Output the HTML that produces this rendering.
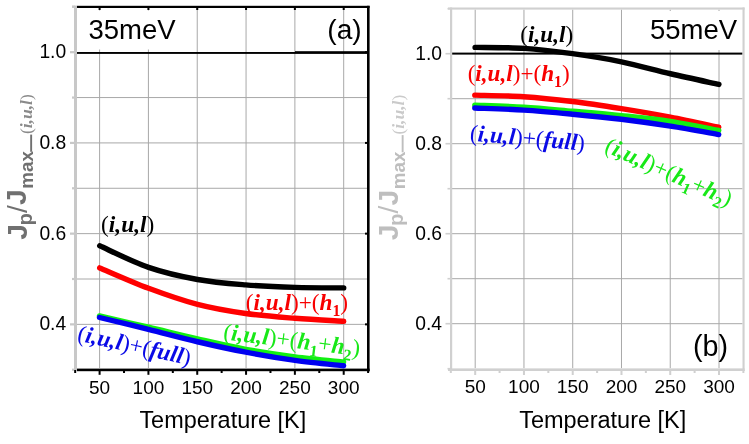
<!DOCTYPE html><html><head><meta charset="utf-8"><style>html,body{margin:0;padding:0;background:#fff;overflow:hidden}svg{display:block;will-change:transform}</style></head><body>
<svg width="749" height="444" viewBox="0 0 749 444">
<rect width="749" height="444" fill="#fff"/>
<line x1="99.60" y1="8" x2="99.60" y2="368" stroke="#a8a8a8" stroke-width="1"/>
<line x1="148.42" y1="8" x2="148.42" y2="368" stroke="#a8a8a8" stroke-width="1"/>
<line x1="197.24" y1="8" x2="197.24" y2="368" stroke="#a8a8a8" stroke-width="1"/>
<line x1="246.06" y1="8" x2="246.06" y2="368" stroke="#a8a8a8" stroke-width="1"/>
<line x1="294.88" y1="8" x2="294.88" y2="368" stroke="#a8a8a8" stroke-width="1"/>
<line x1="343.70" y1="8" x2="343.70" y2="368" stroke="#a8a8a8" stroke-width="1"/>
<line x1="77" y1="324.36" x2="367" y2="324.36" stroke="#a8a8a8" stroke-width="1"/>
<line x1="77" y1="279.00" x2="367" y2="279.00" stroke="#a8a8a8" stroke-width="1"/>
<line x1="77" y1="233.64" x2="367" y2="233.64" stroke="#a8a8a8" stroke-width="1"/>
<line x1="77" y1="188.28" x2="367" y2="188.28" stroke="#a8a8a8" stroke-width="1"/>
<line x1="77" y1="142.92" x2="367" y2="142.92" stroke="#a8a8a8" stroke-width="1"/>
<line x1="77" y1="97.56" x2="367" y2="97.56" stroke="#a8a8a8" stroke-width="1"/>
<rect x="77.5" y="10.5" width="112" height="39" fill="#fff"/>
<rect x="77" y="52" width="218" height="1.9" fill="#000"/>
<rect x="295" y="51.2" width="72" height="2.7" fill="#000"/>
<rect x="74" y="5.6" width="3" height="365" fill="#c8c8c8"/>
<rect x="72" y="5.6" width="3" height="2.3" fill="#c8c8c8"/>
<rect x="77" y="5.8" width="292.6" height="2.2" fill="#000"/>
<rect x="367" y="5.8" width="2.6" height="365.5" fill="#000"/>
<rect x="77" y="368.6" width="292.6" height="2.6" fill="#000"/>
<rect x="72" y="368.62" width="2" height="2.2" fill="#c8c8c8"/>
<rect x="70" y="323.26" width="4" height="2.2" fill="#c8c8c8"/>
<rect x="72" y="277.90" width="2" height="2.2" fill="#c8c8c8"/>
<rect x="70" y="232.54" width="4" height="2.2" fill="#c8c8c8"/>
<rect x="72" y="187.18" width="2" height="2.2" fill="#c8c8c8"/>
<rect x="70" y="141.82" width="4" height="2.2" fill="#c8c8c8"/>
<rect x="72" y="96.46" width="2" height="2.2" fill="#c8c8c8"/>
<rect x="70" y="51.10" width="4" height="2.2" fill="#c8c8c8"/>
<rect x="72" y="5.74" width="2" height="2.2" fill="#c8c8c8"/>
<rect x="98.60" y="7" width="2" height="3" fill="#000"/>
<rect x="147.42" y="7" width="2" height="3" fill="#000"/>
<rect x="196.24" y="7" width="2" height="3" fill="#000"/>
<rect x="245.06" y="7" width="2" height="3" fill="#000"/>
<rect x="293.88" y="7" width="2" height="3" fill="#000"/>
<rect x="342.70" y="7" width="2" height="3" fill="#000"/>
<rect x="365" y="323.36" width="3" height="2" fill="#000"/>
<rect x="365" y="232.64" width="3" height="2" fill="#000"/>
<rect x="365" y="141.92" width="3" height="2" fill="#000"/>
<rect x="365" y="51.20" width="3" height="2" fill="#000"/>
<rect x="74.19" y="370" width="2" height="3" fill="#000"/>
<rect x="98.60" y="370" width="2" height="4.8" fill="#000"/>
<rect x="123.01" y="370" width="2" height="3" fill="#000"/>
<rect x="147.42" y="370" width="2" height="4.8" fill="#000"/>
<rect x="171.83" y="370" width="2" height="3" fill="#000"/>
<rect x="196.24" y="370" width="2" height="4.8" fill="#000"/>
<rect x="220.65" y="370" width="2" height="3" fill="#000"/>
<rect x="245.06" y="370" width="2" height="4.8" fill="#000"/>
<rect x="269.47" y="370" width="2" height="3" fill="#000"/>
<rect x="293.88" y="370" width="2" height="4.8" fill="#000"/>
<rect x="318.29" y="370" width="2" height="3" fill="#000"/>
<rect x="342.70" y="370" width="2" height="4.8" fill="#000"/>
<rect x="367.11" y="370" width="2" height="3" fill="#000"/>
<line x1="475.20" y1="9.6" x2="475.20" y2="368.2" stroke="#a8a8a8" stroke-width="1"/>
<line x1="523.96" y1="9.6" x2="523.96" y2="368.2" stroke="#a8a8a8" stroke-width="1"/>
<line x1="572.72" y1="9.6" x2="572.72" y2="368.2" stroke="#a8a8a8" stroke-width="1"/>
<line x1="621.48" y1="9.6" x2="621.48" y2="368.2" stroke="#a8a8a8" stroke-width="1"/>
<line x1="670.24" y1="9.6" x2="670.24" y2="368.2" stroke="#a8a8a8" stroke-width="1"/>
<line x1="719.00" y1="9.6" x2="719.00" y2="368.2" stroke="#a8a8a8" stroke-width="1"/>
<line x1="452" y1="323.70" x2="742.5" y2="323.70" stroke="#a8a8a8" stroke-width="1"/>
<line x1="452" y1="278.70" x2="742.5" y2="278.70" stroke="#a8a8a8" stroke-width="1"/>
<line x1="452" y1="233.70" x2="742.5" y2="233.70" stroke="#a8a8a8" stroke-width="1"/>
<line x1="452" y1="188.70" x2="742.5" y2="188.70" stroke="#a8a8a8" stroke-width="1"/>
<line x1="452" y1="143.70" x2="742.5" y2="143.70" stroke="#a8a8a8" stroke-width="1"/>
<line x1="452" y1="98.70" x2="742.5" y2="98.70" stroke="#a8a8a8" stroke-width="1"/>
<rect x="640" y="11" width="102" height="39" fill="#fff"/>
<rect x="452" y="52.6" width="290.5" height="2" fill="#000"/>
<rect x="450" y="7.5" width="2.2" height="363.5" fill="#d0d0d0"/>
<rect x="448" y="7.5" width="296.6" height="2.1" fill="#d0d0d0"/>
<rect x="742.5" y="7.5" width="2.1" height="363.5" fill="#d0d0d0"/>
<rect x="448" y="368.4" width="296.6" height="2.6" fill="#d0d0d0"/>
<rect x="447.5" y="367.90" width="2.5" height="1.6" fill="#d0d0d0"/>
<rect x="445.5" y="322.90" width="4.5" height="1.6" fill="#d0d0d0"/>
<rect x="447.5" y="277.90" width="2.5" height="1.6" fill="#d0d0d0"/>
<rect x="445.5" y="232.90" width="4.5" height="1.6" fill="#d0d0d0"/>
<rect x="447.5" y="187.90" width="2.5" height="1.6" fill="#d0d0d0"/>
<rect x="445.5" y="142.90" width="4.5" height="1.6" fill="#d0d0d0"/>
<rect x="447.5" y="97.90" width="2.5" height="1.6" fill="#d0d0d0"/>
<rect x="445.5" y="52.90" width="4.5" height="1.6" fill="#d0d0d0"/>
<rect x="447.5" y="7.90" width="2.5" height="1.6" fill="#d0d0d0"/>
<rect x="449.82" y="370" width="2" height="3" fill="#d0d0d0"/>
<rect x="474.20" y="370" width="2" height="5" fill="#d0d0d0"/>
<rect x="498.58" y="370" width="2" height="3" fill="#d0d0d0"/>
<rect x="522.96" y="370" width="2" height="5" fill="#d0d0d0"/>
<rect x="547.34" y="370" width="2" height="3" fill="#d0d0d0"/>
<rect x="571.72" y="370" width="2" height="5" fill="#d0d0d0"/>
<rect x="596.10" y="370" width="2" height="3" fill="#d0d0d0"/>
<rect x="620.48" y="370" width="2" height="5" fill="#d0d0d0"/>
<rect x="644.86" y="370" width="2" height="3" fill="#d0d0d0"/>
<rect x="669.24" y="370" width="2" height="5" fill="#d0d0d0"/>
<rect x="693.62" y="370" width="2" height="3" fill="#d0d0d0"/>
<rect x="718.00" y="370" width="2" height="5" fill="#d0d0d0"/>
<rect x="742.38" y="370" width="2" height="3" fill="#d0d0d0"/>
<path d="M99.70,245.80 C107.85,249.40 132.30,261.78 148.60,267.40 C164.90,273.02 181.33,276.58 197.50,279.50 C213.67,282.42 229.35,283.58 245.60,284.90 C261.85,286.22 278.65,286.90 295.00,287.40 C311.35,287.90 335.58,287.82 343.70,287.90" fill="none" stroke="#000" stroke-width="5.4" stroke-linecap="round" stroke-linejoin="round"/>
<path d="M99.70,267.90 C107.85,271.30 132.30,282.22 148.60,288.30 C164.90,294.38 181.33,300.20 197.50,304.40 C213.67,308.60 229.35,311.18 245.60,313.50 C261.85,315.82 278.65,317.00 295.00,318.30 C311.35,319.60 335.58,320.80 343.70,321.30" fill="none" stroke="#ff0000" stroke-width="5.4" stroke-linecap="round" stroke-linejoin="round"/>
<path d="M99.50,315.90 C107.65,317.78 132.07,323.37 148.40,327.20 C164.73,331.03 181.27,335.22 197.50,338.90 C213.73,342.58 229.55,346.30 245.80,349.30 C262.05,352.30 278.70,354.78 295.00,356.90 C311.30,359.02 335.50,361.15 343.60,362.00" fill="none" stroke="#12f012" stroke-width="5.4" stroke-linecap="round" stroke-linejoin="round"/>
<path d="M99.50,317.50 C107.65,319.48 132.07,325.36 148.40,329.40 C164.73,333.44 181.27,337.95 197.50,341.75 C213.73,345.55 229.55,349.09 245.80,352.20 C262.05,355.31 278.70,358.13 295.00,360.40 C311.30,362.67 335.50,364.90 343.60,365.80" fill="none" stroke="#0000f0" stroke-width="5.4" stroke-linecap="round" stroke-linejoin="round"/>
<path d="M475.10,47.35 C483.27,47.52 507.87,47.29 524.10,48.35 C540.33,49.41 556.27,51.46 572.50,53.70 C588.73,55.94 605.17,58.46 621.50,61.80 C637.83,65.14 654.27,69.98 670.50,73.75 C686.73,77.52 710.83,82.62 718.90,84.40" fill="none" stroke="#000" stroke-width="5.4" stroke-linecap="round" stroke-linejoin="round"/>
<path d="M474.80,95.10 C482.97,95.37 507.52,95.63 523.80,96.70 C540.08,97.77 556.23,99.50 572.50,101.50 C588.77,103.50 605.08,106.08 621.40,108.70 C637.72,111.32 654.18,114.12 670.40,117.20 C686.62,120.28 710.65,125.53 718.70,127.20" fill="none" stroke="#ff0000" stroke-width="5.4" stroke-linecap="round" stroke-linejoin="round"/>
<path d="M474.80,105.20 C482.97,105.53 507.52,106.20 523.80,107.20 C540.08,108.20 556.23,109.80 572.50,111.20 C588.77,112.60 605.08,113.92 621.40,115.60 C637.72,117.28 654.18,118.83 670.40,121.30 C686.62,123.77 710.65,128.88 718.70,130.40" fill="none" stroke="#12f012" stroke-width="5.4" stroke-linecap="round" stroke-linejoin="round"/>
<path d="M474.80,108.00 C482.97,108.35 507.52,109.07 523.80,110.10 C540.08,111.13 556.23,112.67 572.50,114.20 C588.77,115.73 605.08,117.30 621.40,119.30 C637.72,121.30 654.18,123.65 670.40,126.20 C686.62,128.75 710.65,133.20 718.70,134.60" fill="none" stroke="#0000f0" stroke-width="5.4" stroke-linecap="round" stroke-linejoin="round"/>
<text x="66.2" y="58.10" text-anchor="end" style="font-family:'Liberation Sans',sans-serif;font-size:19.3px" fill="#000">1.0</text>
<text x="442.1" y="59.90" text-anchor="end" style="font-family:'Liberation Sans',sans-serif;font-size:19.3px" fill="#000">1.0</text>
<text x="66.2" y="148.82" text-anchor="end" style="font-family:'Liberation Sans',sans-serif;font-size:19.3px" fill="#000">0.8</text>
<text x="442.1" y="149.90" text-anchor="end" style="font-family:'Liberation Sans',sans-serif;font-size:19.3px" fill="#000">0.8</text>
<text x="66.2" y="239.54" text-anchor="end" style="font-family:'Liberation Sans',sans-serif;font-size:19.3px" fill="#000">0.6</text>
<text x="442.1" y="239.90" text-anchor="end" style="font-family:'Liberation Sans',sans-serif;font-size:19.3px" fill="#000">0.6</text>
<text x="66.2" y="330.26" text-anchor="end" style="font-family:'Liberation Sans',sans-serif;font-size:19.3px" fill="#000">0.4</text>
<text x="442.1" y="329.90" text-anchor="end" style="font-family:'Liberation Sans',sans-serif;font-size:19.3px" fill="#000">0.4</text>
<text x="99.60" y="394.2" text-anchor="middle" style="font-family:'Liberation Sans',sans-serif;font-size:19px" fill="#000">50</text>
<text x="475.20" y="393.4" text-anchor="middle" style="font-family:'Liberation Sans',sans-serif;font-size:19px" fill="#000">50</text>
<text x="148.42" y="394.2" text-anchor="middle" style="font-family:'Liberation Sans',sans-serif;font-size:19px" fill="#000">100</text>
<text x="523.96" y="393.4" text-anchor="middle" style="font-family:'Liberation Sans',sans-serif;font-size:19px" fill="#000">100</text>
<text x="197.24" y="394.2" text-anchor="middle" style="font-family:'Liberation Sans',sans-serif;font-size:19px" fill="#000">150</text>
<text x="572.72" y="393.4" text-anchor="middle" style="font-family:'Liberation Sans',sans-serif;font-size:19px" fill="#000">150</text>
<text x="246.06" y="394.2" text-anchor="middle" style="font-family:'Liberation Sans',sans-serif;font-size:19px" fill="#000">200</text>
<text x="621.48" y="393.4" text-anchor="middle" style="font-family:'Liberation Sans',sans-serif;font-size:19px" fill="#000">200</text>
<text x="294.88" y="394.2" text-anchor="middle" style="font-family:'Liberation Sans',sans-serif;font-size:19px" fill="#000">250</text>
<text x="670.24" y="393.4" text-anchor="middle" style="font-family:'Liberation Sans',sans-serif;font-size:19px" fill="#000">250</text>
<text x="343.70" y="394.2" text-anchor="middle" style="font-family:'Liberation Sans',sans-serif;font-size:19px" fill="#000">300</text>
<text x="719.00" y="393.4" text-anchor="middle" style="font-family:'Liberation Sans',sans-serif;font-size:19px" fill="#000">300</text>
<text transform="translate(26.70,239.80) rotate(-90)" style="font-family:'Liberation Sans',sans-serif;font-weight:bold;font-size:28.36px" fill="#707070">J</text>
<text transform="translate(31.70,225.30) rotate(-90)" style="font-family:'Liberation Sans',sans-serif;font-weight:bold;font-size:19.77px" fill="#707070">p</text>
<text transform="translate(26.70,213.00) rotate(-90)" style="font-family:'Liberation Sans',sans-serif;font-weight:normal;font-size:28.36px" fill="#707070">/</text>
<text transform="translate(26.20,205.00) rotate(-90)" style="font-family:'Liberation Sans',sans-serif;font-weight:bold;font-size:28.36px" fill="#707070">J</text>
<text transform="translate(33.00,188.70) rotate(-90)" style="font-family:'Liberation Sans',sans-serif;font-weight:bold;font-size:18.79px" fill="#707070">max</text>
<text transform="translate(32.40,134.10) rotate(-90)" style="font-family:'Liberation Serif',serif;font-size:17.52px" fill="#8a8a8a"><tspan>(</tspan><tspan style="font-weight:bold;font-style:italic">i,u,l</tspan><tspan>)</tspan></text>
<rect x="30.20" y="134.60" width="1.9" height="17.2" fill="#707070"/>
<text transform="translate(398.20,240.30) rotate(-90)" style="font-family:'Liberation Sans',sans-serif;font-weight:bold;font-size:28.36px" fill="#bebebe">J</text>
<text transform="translate(403.20,225.80) rotate(-90)" style="font-family:'Liberation Sans',sans-serif;font-weight:bold;font-size:19.77px" fill="#bebebe">p</text>
<text transform="translate(398.20,213.50) rotate(-90)" style="font-family:'Liberation Sans',sans-serif;font-weight:normal;font-size:28.36px" fill="#bebebe">/</text>
<text transform="translate(397.70,205.50) rotate(-90)" style="font-family:'Liberation Sans',sans-serif;font-weight:bold;font-size:28.36px" fill="#bebebe">J</text>
<text transform="translate(404.50,189.20) rotate(-90)" style="font-family:'Liberation Sans',sans-serif;font-weight:bold;font-size:18.79px" fill="#bebebe">max</text>
<text transform="translate(403.90,134.60) rotate(-90)" style="font-family:'Liberation Serif',serif;font-size:17.52px" fill="#cacaca"><tspan>(</tspan><tspan style="font-weight:bold;font-style:italic">i,u,l</tspan><tspan>)</tspan></text>
<rect x="401.70" y="135.10" width="1.9" height="17.2" fill="#bebebe"/>
<text x="101.05" y="231.55" style="font-family:'Liberation Serif',serif;font-size:23.38px" fill="#000"><tspan style="font-weight:normal;font-style:normal">(</tspan><tspan style="font-weight:bold;font-style:italic">i,u,l</tspan><tspan style="font-weight:normal;font-style:normal">)</tspan></text>
<text x="245.80" y="310.15" style="font-family:'Liberation Serif',serif;font-size:23.22px" fill="#f80000"><tspan style="font-weight:normal;font-style:normal">(</tspan><tspan style="font-weight:bold;font-style:italic">i,u,l</tspan><tspan style="font-weight:normal;font-style:normal">)</tspan><tspan style="font-weight:normal;font-style:normal">+</tspan><tspan style="font-weight:normal;font-style:normal">(</tspan><tspan style="font-weight:bold;font-style:italic">h</tspan><tspan dy="5.80" style="font-weight:bold;font-style:normal;font-size:15.79px">1</tspan><tspan dy="-5.80" style="font-weight:normal;font-style:normal">)</tspan></text>
<text x="222.80" y="339.20" transform="rotate(7.0,222.80,339.20)" style="font-family:'Liberation Serif',serif;font-size:23.43px" fill="#18e818"><tspan style="font-weight:normal;font-style:normal">(</tspan><tspan style="font-weight:bold;font-style:italic">i,u,l</tspan><tspan style="font-weight:normal;font-style:normal">)</tspan><tspan style="font-weight:normal;font-style:normal">+</tspan><tspan style="font-weight:normal;font-style:normal">(</tspan><tspan style="font-weight:bold;font-style:italic">h</tspan><tspan dy="5.86" style="font-weight:bold;font-style:normal;font-size:15.93px">1</tspan><tspan dy="-5.86" style="font-weight:normal;font-style:normal">+</tspan><tspan style="font-weight:bold;font-style:italic">h</tspan><tspan dy="5.86" style="font-weight:bold;font-style:normal;font-size:15.93px">2</tspan><tspan dy="-5.86" style="font-weight:normal;font-style:normal">)</tspan></text>
<text x="76.60" y="340.40" transform="rotate(12.5,76.60,340.40)" style="font-family:'Liberation Serif',serif;font-size:23.26px" fill="#0a0ae6"><tspan style="font-weight:normal;font-style:normal">(</tspan><tspan style="font-weight:bold;font-style:italic">i,u,l</tspan><tspan style="font-weight:normal;font-style:normal">)</tspan><tspan style="font-weight:normal;font-style:normal">+</tspan><tspan style="font-weight:normal;font-style:normal">(</tspan><tspan style="font-weight:bold;font-style:italic">full</tspan><tspan style="font-weight:normal;font-style:normal">)</tspan></text>
<text x="520.30" y="42.00" style="font-family:'Liberation Serif',serif;font-size:23.18px" fill="#000"><tspan style="font-weight:normal;font-style:normal">(</tspan><tspan style="font-weight:bold;font-style:italic">i,u,l</tspan><tspan style="font-weight:normal;font-style:normal">)</tspan></text>
<text x="467.65" y="81.35" style="font-family:'Liberation Serif',serif;font-size:23.16px" fill="#f80000"><tspan style="font-weight:normal;font-style:normal">(</tspan><tspan style="font-weight:bold;font-style:italic">i,u,l</tspan><tspan style="font-weight:normal;font-style:normal">)</tspan><tspan style="font-weight:normal;font-style:normal">+</tspan><tspan style="font-weight:normal;font-style:normal">(</tspan><tspan style="font-weight:bold;font-style:italic">h</tspan><tspan dy="5.79" style="font-weight:bold;font-style:normal;font-size:15.75px">1</tspan><tspan dy="-5.79" style="font-weight:normal;font-style:normal">)</tspan></text>
<text x="469.50" y="140.60" transform="rotate(5.0,469.50,140.60)" style="font-family:'Liberation Serif',serif;font-size:23.27px" fill="#0a0ae6"><tspan style="font-weight:normal;font-style:normal">(</tspan><tspan style="font-weight:bold;font-style:italic">i,u,l</tspan><tspan style="font-weight:normal;font-style:normal">)</tspan><tspan style="font-weight:normal;font-style:normal">+</tspan><tspan style="font-weight:normal;font-style:normal">(</tspan><tspan style="font-weight:bold;font-style:italic">full</tspan><tspan style="font-weight:normal;font-style:normal">)</tspan></text>
<text x="603.60" y="151.20" transform="rotate(24.0,603.60,151.20)" style="font-family:'Liberation Serif',serif;font-size:23.23px" fill="#18e818"><tspan style="font-weight:normal;font-style:normal">(</tspan><tspan style="font-weight:bold;font-style:italic">i,u,l</tspan><tspan style="font-weight:normal;font-style:normal">)</tspan><tspan style="font-weight:normal;font-style:normal">+</tspan><tspan style="font-weight:normal;font-style:normal">(</tspan><tspan style="font-weight:bold;font-style:italic">h</tspan><tspan dy="5.81" style="font-weight:bold;font-style:normal;font-size:15.80px">1</tspan><tspan dy="-5.81" style="font-weight:normal;font-style:normal">+</tspan><tspan style="font-weight:bold;font-style:italic">h</tspan><tspan dy="5.81" style="font-weight:bold;font-style:normal;font-size:15.80px">2</tspan><tspan dy="-5.81" style="font-weight:normal;font-style:normal">)</tspan></text>
<text x="88.40" y="39.30" style="font-family:'Liberation Sans',sans-serif;font-size:27.51px;font-weight:normal" fill="#000">35meV</text>
<text x="327.35" y="38.55" style="font-family:'Liberation Sans',sans-serif;font-size:28.14px;font-weight:normal" fill="#000">(a)</text>
<text x="649.95" y="39.00" style="font-family:'Liberation Sans',sans-serif;font-size:27.51px;font-weight:normal" fill="#000">55meV</text>
<text x="692.90" y="356.05" style="font-family:'Liberation Sans',sans-serif;font-size:28.69px;font-weight:normal" fill="#000">(b)</text>
<text x="139.40" y="427.65" style="font-family:'Liberation Sans',sans-serif;font-size:23.46px;font-weight:normal" fill="#000">Temperature [K]</text>
<text x="519.15" y="427.95" style="font-family:'Liberation Sans',sans-serif;font-size:23.51px;font-weight:normal" fill="#000">Temperature [K]</text>
</svg></body></html>
